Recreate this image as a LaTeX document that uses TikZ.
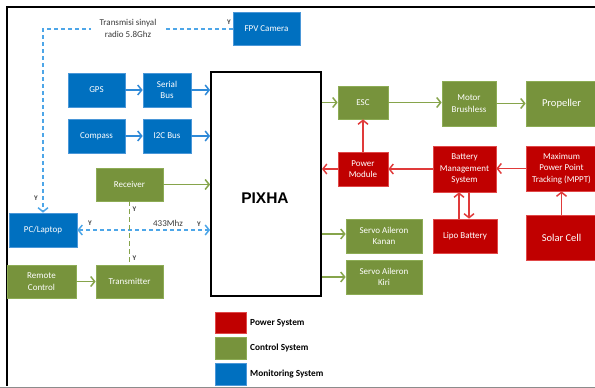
\documentclass[tikz,border=0pt]{standalone}
\usepackage{fontspec}
\setmainfont{Carlito}
\newfontfamily\pixfont{Liberation Sans}
\usetikzlibrary{arrows.meta}
\definecolor{bfill}{HTML}{0070C0}
\definecolor{bline}{HTML}{4A97D8}
\definecolor{gfill}{HTML}{77933C}
\definecolor{gline}{HTML}{8DAC55}
\definecolor{rfill}{HTML}{C00000}
\definecolor{rline}{HTML}{E04848}
\definecolor{barrowc}{HTML}{2F8AD8}
\definecolor{garrowc}{HTML}{86A44B}
\definecolor{rarrowc}{HTML}{E03A3A}
\definecolor{bdash}{HTML}{4DA6E8}
\definecolor{txtgray}{HTML}{3A3A3A}
\tikzset{
  box/.style={rectangle, inner sep=0pt, align=center, text=white,
    font=\fontsize{9}{11.5}\selectfont, line width=0.7pt},
  bbox/.style={box, fill=bfill, draw=bline},
  gbox/.style={box, fill=gfill, draw=gline},
  rbox/.style={box, fill=rfill, draw=rline},
  bigtxt/.style={font=\fontsize{10.5}{12}\selectfont},
  tip/.style={-{Straight Barb[length=4pt,width=10pt]}},
  barrow/.style={tip, draw=barrowc, line width=1.5pt},
  garrow/.style={tip, draw=garrowc, line width=1.5pt},
  rarrow/.style={tip, draw=rarrowc, line width=1.5pt},
  bdashed/.style={draw=bdash, line width=1.5pt, dash pattern=on 4pt off 3pt},
  gdashed/.style={draw=garrowc, line width=1.5pt, dash pattern=on 5pt off 3pt},
  ylab/.style={font=\fontsize{7}{8}\selectfont\bfseries, text=txtgray, inner sep=0pt},
  smalltxt/.style={font=\fontsize{9}{12}\selectfont, text=txtgray, align=center},
  legtxt/.style={font=\fontsize{9.3}{10}\selectfont\bfseries, text=black, anchor=west, inner sep=0pt},
}
\begin{document}
\begin{tikzpicture}[x=1pt,y=-1pt]
\useasboundingbox (0,0) rectangle (595,388);
% frame
\draw[line width=2.2pt, black] (595,7) -- (7,7) -- (7,386);
\draw[line width=0.8pt, black!45] (0,387) -- (595,387);

% blue boxes
\node[bbox, minimum width=67pt, minimum height=33pt] (fpv) at (266.5,29) {FPV Camera};
\node[bbox, minimum width=57pt, minimum height=34pt] (gps) at (96.5,90) {GPS};
\node[bbox, minimum width=48pt, minimum height=34pt] (ser) at (167,90) {Serial\\Bus};
\node[bbox, minimum width=57pt, minimum height=34pt] (cmp) at (96.5,136) {Compass};
\node[bbox, minimum width=48pt, minimum height=34pt] (i2c) at (167,136) {I2C Bus};
\node[bbox, minimum width=68pt, minimum height=34pt] (pc) at (43,230) {PC/Laptop};

% PIXHA
\node[rectangle, draw=black, line width=1.8pt, fill=white, minimum width=110pt, minimum height=224pt, inner sep=0pt] (pix) at (266,184) {};
\node[font=\pixfont\bfseries\fontsize{15.5}{16}\selectfont, inner sep=0pt] (pixtxt) at (265,198) {PIXHA};

% green boxes
\node[gbox, minimum width=67pt, minimum height=33pt] (rec) at (129.5,184.5) {Receiver};
\node[gbox, minimum width=69pt, minimum height=33pt] (rc) at (41.5,281.5) {Remote\\Control};
\node[gbox, minimum width=67pt, minimum height=33pt] (tx) at (129.5,281.5) {Transmitter};
\node[gbox, minimum width=50pt, minimum height=33pt] (esc) at (363,102.5) {ESC};
\node[gbox, minimum width=54pt, minimum height=45pt] (mot) at (469,103.5) {Motor\\Brushless};
\node[gbox, bigtxt, minimum width=71pt, minimum height=45pt] (prop) at (561.5,103.5) {Propeller};
\node[gbox, minimum width=76pt, minimum height=34pt] (svk) at (384,236) {Servo Aileron\\Kanan};
\node[gbox, minimum width=76pt, minimum height=34pt] (svl) at (384,277) {Servo Aileron\\Kiri};

% red boxes
\node[rbox, minimum width=50pt, minimum height=34pt] (pm) at (363,169) {Power\\Module};
\node[rbox, minimum width=63pt, minimum height=46pt] (bms) at (464.5,169) {Battery\\Management\\System};
\node[rbox, minimum width=71pt, minimum height=45pt] (mppt) at (561.5,168.5) {Maximum\\Power Point\\Tracking (MPPT)};
\node[rbox, minimum width=64pt, minimum height=34pt] (lipo) at (465,236) {Lipo Battery};
\node[rbox, bigtxt, minimum width=71pt, minimum height=45pt] (sol) at (561.5,237.5) {Solar Cell};

% blue arrows
\draw[barrow] (gps.east) -- (ser.west);
\draw[barrow] (ser.east) -- (ser.east -| pix.west);
\draw[barrow] (cmp.east) -- (i2c.west);
\draw[barrow] (i2c.east) -- (i2c.east -| pix.west);

% green arrows
\draw[garrow] (rec.east) -- (rec.east -| pix.west);
\draw[garrow] (rc.east) -- (tx.west);
\draw[garrow] (pix.east |- esc.west) -- (esc.west);
\draw[garrow] (esc.east) -- (esc.east -| mot.west);
\draw[garrow] (mot.east) -- (prop.west);
\draw[garrow] ([yshift=2pt]pix.east |- svk.west) -- ([yshift=2pt]svk.west);
\draw[garrow] (pix.east |- svl.west) -- (svl.west);

% red arrows
\draw[rarrow] (pm.north) -- (esc.south);
\draw[rarrow] (pm.west) -- (pm.west -| pix.east);
\draw[rarrow] (bms.west) -- (pm.east);
\draw[rarrow] (mppt.west) -- (mppt.west -| bms.east);
\draw[rarrow] ([xshift=-5.5pt]bms.south |- lipo.north) -- ([xshift=-5.5pt]bms.south);
\draw[rarrow] ([xshift=4.5pt]bms.south) -- ([xshift=4.5pt]bms.south |- lipo.north);
\draw[rarrow] (sol.north) -- (mppt.south);

% dashed links
\coordinate (corner) at (43,29);
\draw[bdashed, tip] (fpv.west) -- (corner) -- (pc.north);
\node[smalltxt, fill=white, inner sep=1pt, minimum width=74pt, minimum height=31pt] (radio) at (128,28.5) {Transmisi sinyal\\radio 5.8Ghz};
\draw[bdashed, {Straight Barb[length=4pt,width=10pt]}-{Straight Barb[length=4pt,width=10pt]}] (pc.east) -- (pc.east -| pix.west);
\node[smalltxt, inner sep=0pt] (mhz) at (168,223.5) {433Mhz};
\draw[gdashed] (rec.south) -- (tx.north);

% Y labels
\node[ylab] (y1) at (229,22) {Y};
\node[ylab] (y2) at (36,198) {Y};
\node[ylab] (y3) at (90,223) {Y};
\node[ylab] (y4) at (199,224) {Y};
\node[ylab] (y5) at (134.5,209) {Y};
\node[ylab] (y6) at (134.5,258) {Y};

% legend
\node[rectangle, fill=rfill, draw=rline, line width=0.5pt, minimum width=31pt, minimum height=21pt, inner sep=0pt] (lr) at (230.5,322.5) {};
\node[rectangle, fill=gfill, draw=gline, line width=0.5pt, minimum width=31pt, minimum height=22pt, inner sep=0pt] (lg) at (230.5,348) {};
\node[rectangle, fill=bfill, draw=bline, line width=0.5pt, minimum width=31pt, minimum height=22pt, inner sep=0pt] (lb) at (230.5,374) {};
\node[legtxt] (lrt) at (250,323) {Power System};
\node[legtxt] (lgt) at (250,348) {Control System};
\node[legtxt] (lbt) at (250,374.5) {Monitoring System};
\end{tikzpicture}
\end{document}
